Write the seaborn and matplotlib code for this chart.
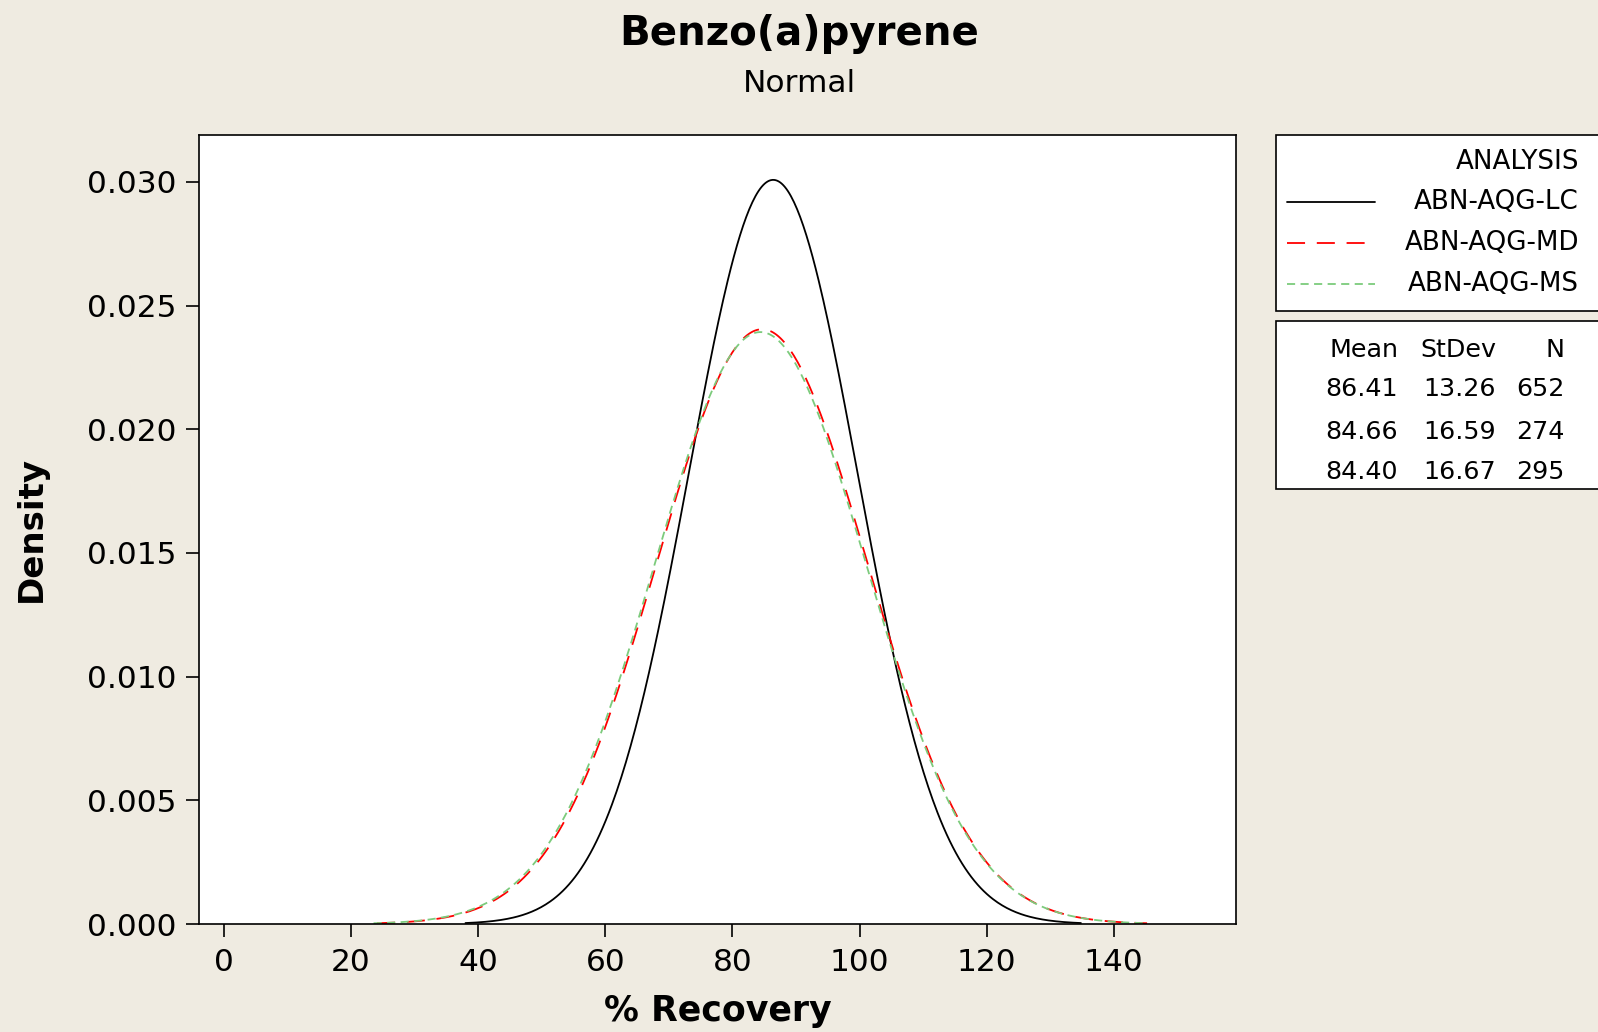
import numpy as np
import pandas as pd
import matplotlib
matplotlib.use("Agg")
import matplotlib.pyplot as plt
import seaborn as sns
from matplotlib.patches import Rectangle
from matplotlib.lines import Line2D

# ---- data ----
analyses = ["ABN-AQG-LC", "ABN-AQG-MD", "ABN-AQG-MS"]
means = [86.41, 84.66, 84.40]
stdevs = [13.26, 16.59, 16.67]
counts = [652, 274, 295]
x_ticks = [0, 20, 40, 60, 80, 100, 120, 140]
y_ticks = [0.000, 0.005, 0.010, 0.015, 0.020, 0.025, 0.030]

colors = {"ABN-AQG-LC": "#000000", "ABN-AQG-MD": "#FF0000", "ABN-AQG-MS": "#7CCB7C"}
dashes = {"ABN-AQG-LC": "", "ABN-AQG-MD": (10, 6.5), "ABN-AQG-MS": (4.5, 3)}

# fitted normal density curves from the stated mean / stdev
rows = []
for name, m, s in zip(analyses, means, stdevs):
    xs = np.linspace(m - 3.65 * s, m + 3.65 * s, 400)
    ys = np.exp(-0.5 * ((xs - m) / s) ** 2) / (s * np.sqrt(2 * np.pi))
    rows.append(pd.DataFrame({"x": xs, "density": ys, "ANALYSIS": name}))
df = pd.concat(rows, ignore_index=True)

sns.set_style("white")
plt.rcParams["font.family"] = ["DejaVu Sans"]
plt.rcParams["text.color"] = "black"
plt.rcParams["axes.labelcolor"] = "black"

W, H = 1598, 1032
BG = "#EFEBE1"
LW = 1.3
fig = plt.figure(figsize=(W / 100, H / 100), dpi=100, facecolor=BG)
ax = fig.add_axes([199 / W, 1 - 924 / H, (1236 - 199) / W, (924 - 135) / H])
ax.set_facecolor("white")

sns.lineplot(data=df, x="x", y="density", hue="ANALYSIS", style="ANALYSIS",
             palette=colors, dashes=dashes, hue_order=analyses, style_order=analyses,
             linewidth=LW, ax=ax, legend=False, sort=False, estimator=None)

ax.set_xlim(-3.9, 159.2)
ax.set_ylim(0, 0.0319)
ax.set_xticks(x_ticks)
ax.set_yticks(y_ticks)
ax.set_yticklabels([f"{v:.3f}" for v in y_ticks])
ax.tick_params(axis="both", which="major", direction="out", length=9.5, width=1.2,
               color="black", labelsize=22.5, labelcolor="black",
               bottom=True, left=True)
ax.tick_params(axis="y", pad=7)
ax.tick_params(axis="x", pad=8)
for sp in ax.spines.values():
    sp.set_visible(True)
    sp.set_color("black")
    sp.set_linewidth(1.2)

ax.set_xlabel("% Recovery", fontsize=25, fontweight="bold", labelpad=12)
ax.set_ylabel("Density", fontsize=24.5, fontweight="bold", labelpad=28)

fig.text(0.5, 1 - 34 / H, "Benzo(a)pyrene", ha="center", va="center",
         fontsize=29, fontweight="bold")
fig.text(0.5, 1 - 83 / H, "Normal", ha="center", va="center", fontsize=22.5)

# ---- legend boxes ----
def fx(px):
    return px / W

def fy(py):
    return 1 - py / H

box1 = Rectangle((fx(1276), fy(311)), fx(1620) - fx(1276), fy(135) - fy(311),
                 transform=fig.transFigure, facecolor="white", edgecolor="black",
                 linewidth=1.2, clip_on=False)
box2 = Rectangle((fx(1276), fy(489)), fx(1620) - fx(1276), fy(321) - fy(489),
                 transform=fig.transFigure, facecolor="white", edgecolor="black",
                 linewidth=1.2, clip_on=False)
fig.add_artist(box1)
fig.add_artist(box2)

fs_leg = 18.8
fig.text(fx(1579), fy(162), "ANALYSIS", ha="right", va="center", fontsize=fs_leg)
row_y = [202, 243, 284]
for name, yy in zip(analyses, row_y):
    ln = Line2D([fx(1287), fx(1375)], [fy(yy), fy(yy)], transform=fig.transFigure,
                color=colors[name], linewidth=LW)
    if dashes[name]:
        ln.set_dashes(dashes[name])
    fig.add_artist(ln)
    fig.text(fx(1579), fy(yy), name, ha="right", va="center", fontsize=fs_leg)

fs_tab = 18.3
fig.text(fx(1398), fy(350), "Mean", ha="right", va="center", fontsize=fs_tab)
fig.text(fx(1496), fy(350), "StDev", ha="right", va="center", fontsize=fs_tab)
fig.text(fx(1565), fy(350), "N", ha="right", va="center", fontsize=fs_tab)
for m, s, n, yy in zip(means, stdevs, counts, [389, 432, 472]):
    fig.text(fx(1398), fy(yy), f"{m:.2f}", ha="right", va="center", fontsize=fs_tab)
    fig.text(fx(1496), fy(yy), f"{s:.2f}", ha="right", va="center", fontsize=fs_tab)
    fig.text(fx(1565), fy(yy), f"{n}", ha="right", va="center", fontsize=fs_tab)

fig.savefig("out.png", dpi=100, facecolor=BG)
